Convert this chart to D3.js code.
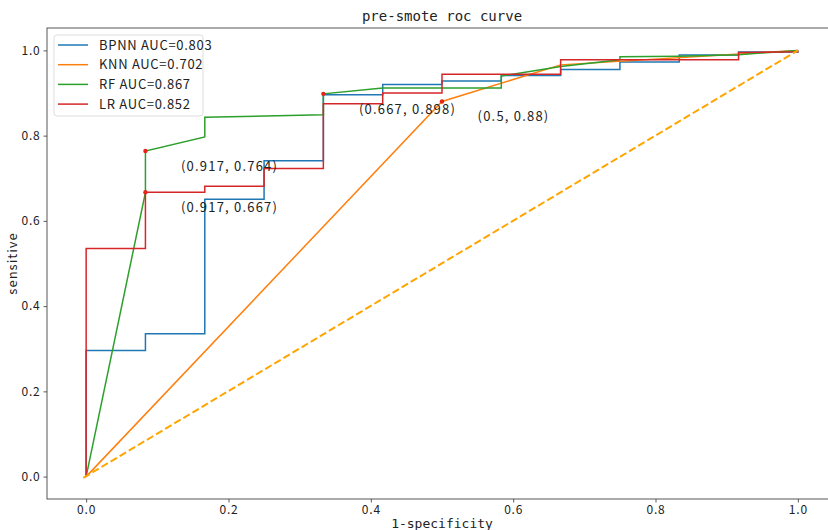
<!DOCTYPE html>
<html>
<head>
<meta charset="utf-8">
<script src="https://cdn.jsdelivr.net/npm/d3@7"></script>
<style>
  body { margin: 0; background: #fff; }
  svg text { font-family: "Noto Sans CJK SC", "DejaVu Sans", sans-serif; fill: #222; }
</style>
</head>
<body>
<script>
// roc points, [fpr, tpr]
var bpnn = [[0,0],[0,0.296],[0.0833,0.296],[0.0833,0.335],[0.1667,0.335],[0.1667,0.651],
            [0.25,0.651],[0.25,0.741],[0.3333,0.741],[0.3333,0.896],[0.4167,0.896],[0.4167,0.92],
            [0.5,0.92],[0.5,0.928],[0.5833,0.928],[0.5833,0.941],[0.6667,0.941],[0.6667,0.955],
            [0.75,0.955],[0.75,0.973],[0.8333,0.973],[0.8333,0.989],[0.9167,0.989],[0.9167,0.996],[1,0.996],[1,1]];
var knn = [[0,0],[0.5,0.88],[0.6667,0.966],[1,1]];
var rf = [[0,0],[0.0833,0.667],[0.0833,0.764],[0.1667,0.797],[0.1667,0.843],[0.3333,0.849],
          [0.3333,0.898],[0.4167,0.912],[0.5833,0.912],[0.5833,0.94],[0.6667,0.962],[0.75,0.978],
          [0.75,0.985],[0.8333,0.986],[0.9167,0.99],[1,1]];
var lr = [[0,0],[0,0.535],[0.0833,0.535],[0.0833,0.667],[0.1667,0.667],[0.1667,0.681],
          [0.25,0.681],[0.25,0.723],[0.3333,0.723],[0.3333,0.875],[0.4167,0.875],[0.4167,0.9],
          [0.5,0.9],[0.5,0.944],[0.6667,0.944],[0.6667,0.978],[0.9167,0.978],[0.9167,0.995],[1,0.997],[1,1]];

var seriesNames = ["BPNN AUC=0.803", "KNN AUC=0.702", "RF AUC=0.867", "LR AUC=0.852"];
var seriesColors = ["#1f77b4", "#ff7f0e", "#2ca02c", "#d62728"];

var annotPoints = [[0.0833,0.764],[0.0833,0.667],[0.3333,0.898],[0.5,0.88]];
var annotLabels = ["(0.917, 0.764)", "(0.917, 0.667)", "(0.667, 0.898)", "(0.5, 0.88)"];

var tickVals = [0, 0.2, 0.4, 0.6, 0.8, 1.0];

var width = 828, height = 530;
var margin = {top: 28, left: 47, bottom: 499, right: 837};

var svg = d3.select("body").append("svg")
    .attr("width", width)
    .attr("height", height);

var x = d3.scaleLinear().domain([-0.055, 1.055]).range([margin.left, margin.right]);
var y = d3.scaleLinear().domain([-0.0525, 1.0525]).range([margin.bottom, margin.top]);

var line = d3.line()
    .x(function(d) { return x(d[0]); })
    .y(function(d) { return y(d[1]); });

var plot = svg.append("g");

[bpnn, knn, rf, lr].forEach(function(s, i) {
    plot.append("path")
        .datum(s)
        .attr("fill", "none")
        .attr("stroke", seriesColors[i])
        .attr("stroke-width", 1.5)
        .attr("d", line);
});

// chance line
plot.append("path")
    .datum([[-0.004,-0.003],[1,1]])
    .attr("fill", "none")
    .attr("stroke", "orange")
    .attr("stroke-width", 2)
    .attr("stroke-dasharray", "7.4,3.2")
    .attr("d", line);

plot.selectAll("circle.pt")
    .data(annotPoints)
    .enter().append("circle")
    .attr("class", "pt")
    .attr("cx", function(d) { return x(d[0]); })
    .attr("cy", function(d) { return y(d[1]); })
    .attr("r", 2.2)
    .attr("fill", "#e8231a");

plot.selectAll("text.ann")
    .data(annotPoints)
    .enter().append("text")
    .attr("class", "ann")
    .attr("x", function(d) { return x(d[0] + 0.05); })
    .attr("y", function(d) { return y(d[1] - 0.036); })
    .attr("dy", "0.35em")
    .style("font-size", "13px")
    .style("letter-spacing", "1.2px")
    .text(function(d, i) { return annotLabels[i]; });

// axes
var xAxis = d3.axisBottom(x).tickValues(tickVals).tickSize(3.5).tickPadding(3)
    .tickFormat(d3.format(".1f"));
var yAxis = d3.axisLeft(y).tickValues(tickVals).tickSize(3.5).tickPadding(3)
    .tickFormat(d3.format(".1f"));

var gx = svg.append("g").attr("transform", "translate(0," + margin.bottom + ")").call(xAxis);
var gy = svg.append("g").attr("transform", "translate(" + margin.left + ",0)").call(yAxis);
[gx, gy].forEach(function(g) {
    g.select(".domain").remove();
    g.selectAll(".tick line").attr("stroke", "#333").attr("stroke-width", 0.8);
    g.selectAll(".tick text").style("font-size", "12px").attr("fill", "#333")
        .style("letter-spacing", "0.8px")
        .style("font-family", "\"Noto Sans CJK SC\", sans-serif");
});

// frame (right side falls outside the picture)
svg.append("rect")
    .attr("x", margin.left)
    .attr("y", margin.top)
    .attr("width", margin.right - margin.left)
    .attr("height", margin.bottom - margin.top)
    .attr("fill", "none")
    .attr("stroke", "#444")
    .attr("stroke-width", 0.9);

svg.append("text")
    .attr("x", (margin.left + margin.right) / 2)
    .attr("y", 21)
    .attr("text-anchor", "middle")
    .style("font-family", "\"DejaVu Sans Mono\", monospace")
    .style("font-size", "14px")
    .text("pre-smote roc curve");

svg.append("text")
    .attr("x", (margin.left + margin.right) / 2)
    .attr("y", 528)
    .attr("text-anchor", "middle")
    .style("font-family", "\"DejaVu Sans Mono\", monospace")
    .style("font-size", "13px")
    .text("1-specificity");

svg.append("text")
    .attr("transform", "translate(17," + (margin.top + margin.bottom) / 2 + ") rotate(-90)")
    .attr("text-anchor", "middle")
    .style("font-size", "13px")
    .style("letter-spacing", "1px")
    .text("sensitive");

// legend
var legend = svg.append("g").attr("transform", "translate(54,35)");
legend.append("rect")
    .attr("width", 149)
    .attr("height", 81)
    .attr("rx", 3)
    .attr("fill", "#fff")
    .attr("fill-opacity", 0.8)
    .attr("stroke", "#ddd");
seriesNames.forEach(function(name, i) {
    var yy = 10 + i * 19.7;
    legend.append("line")
        .attr("x1", 4).attr("x2", 34)
        .attr("y1", yy).attr("y2", yy)
        .attr("stroke", seriesColors[i])
        .attr("stroke-width", 1.5);
    legend.append("text")
        .attr("x", 45)
        .attr("y", yy)
        .attr("dy", "0.35em")
        .style("font-size", "13px")
        .style("letter-spacing", "0.7px")
        .text(name);
});
</script>
</body>
</html>
